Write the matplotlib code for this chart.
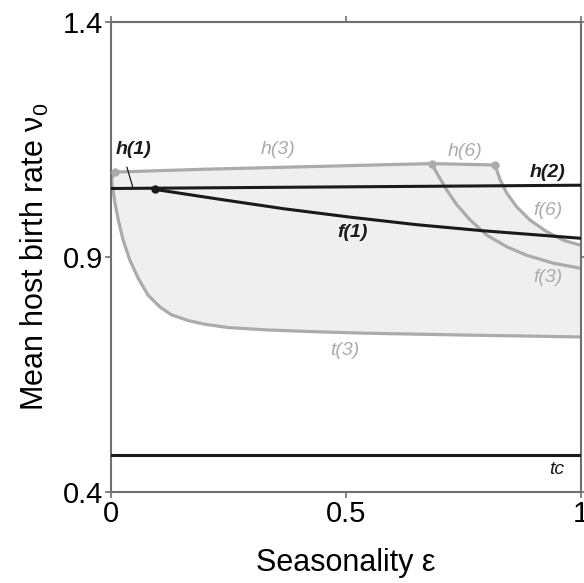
import matplotlib
matplotlib.use('Agg')
import matplotlib.pyplot as plt
import numpy as np

plt.rcParams['font.family'] = ['Liberation Sans', 'DejaVu Sans']
plt.rcParams['mathtext.fontset'] = 'custom'
plt.rcParams['mathtext.rm'] = 'Liberation Sans'
plt.rcParams['mathtext.it'] = 'Liberation Sans:italic'

grey = '#ababab'
dark = '#1a1a1a'

# ---- curves (seasonality eps, birth rate nu0) ----
h3_eps = [0.0085, 0.2, 0.4, 0.6, 0.682]
h3_nu = [1.081, 1.087, 1.092, 1.097, 1.099]

h6_eps = [0.682, 0.817]
h6_nu = [1.099, 1.096]

f6_eps = [0.817, 0.828, 0.842, 0.863, 0.891, 0.927, 0.962, 1.0]
f6_nu = [1.096, 1.064, 1.036, 1.007, 0.979, 0.954, 0.936, 0.925]

f3_eps = [0.682, 0.696, 0.714, 0.736, 0.764, 0.799, 0.842, 0.884, 0.941, 1.0]
f3_nu = [1.099, 1.074, 1.043, 1.011, 0.979, 0.947, 0.922, 0.904, 0.887, 0.876]

t3_eps = [0.0085, 0.001, 0.003, 0.0085, 0.0155, 0.026, 0.040, 0.058, 0.079,
          0.104, 0.129, 0.164, 0.200, 0.250, 0.332, 0.440, 0.545, 0.650,
          0.757, 0.880, 1.0]
t3_nu = [1.081, 1.066, 1.053, 1.015, 0.979, 0.936, 0.894, 0.855, 0.819,
         0.794, 0.777, 0.765, 0.757, 0.750, 0.745, 0.741, 0.738, 0.736,
         0.734, 0.732, 0.730]

h2_eps = [0.0, 1.0]
h2_nu = [1.046, 1.053]

f1_eps = [0.094, 0.225, 0.367, 0.509, 0.650, 0.792, 1.0]
f1_nu = [1.044, 1.024, 1.003, 0.985, 0.969, 0.956, 0.940]

tc_nu = 0.479

# ---------------------------------------------------------------------------

fig = plt.figure(figsize=(5.84, 5.83), dpi=100)
ax = fig.add_axes([0.190, 0.156, 0.805, 0.806])

# shaded region: top = h(3) + h(6) + f(6), bottom = t(3)
top_eps = np.array(h3_eps + h6_eps[1:] + f6_eps[1:])
top_nu = np.array(h3_nu + h6_nu[1:] + f6_nu[1:])
poly_x = np.concatenate([top_eps, np.array(t3_eps[::-1])])
poly_y = np.concatenate([top_nu, np.array(t3_nu[::-1])])
ax.fill(poly_x, poly_y, color='#efefef', lw=0, zorder=1)

lw = 2.3
style = dict(color=grey, lw=lw, zorder=2, solid_joinstyle='round',
             solid_capstyle='round')
ax.plot(h3_eps, h3_nu, **style)
ax.plot(h6_eps, h6_nu, **style)
ax.plot(f6_eps, f6_nu, **style)
ax.plot(f3_eps, f3_nu, **style)
ax.plot(t3_eps, t3_nu, **style)
ax.plot([h3_eps[0], h6_eps[0], h6_eps[1]], [h3_nu[0], h6_nu[0], h6_nu[1]],
        'o', color=grey, ms=5, zorder=3)

bstyle = dict(color=dark, lw=2.2, zorder=4, solid_joinstyle='round')
ax.plot(h2_eps, h2_nu, **bstyle)
ax.plot(f1_eps, f1_nu, **bstyle)
ax.plot(f1_eps[0], f1_nu[0], 'o', color=dark, ms=5, zorder=5)
ax.axhline(tc_nu, **bstyle)

# leader line for h(1)
ax.plot([0.034, 0.047], [1.091, 1.047], color=dark, lw=0.9, zorder=4)

lab = dict(fontsize=14, style='italic', ha='center', va='center')
ax.text(0.047, 1.128, 'h(1)', color=dark, weight='bold', **lab)
ax.text(0.355, 1.128, 'h(3)', color=grey, **lab)
ax.text(0.753, 1.124, 'h(6)', color=grey, **lab)
ax.text(0.928, 1.081, 'h(2)', color=dark, weight='bold', **lab)
ax.text(0.930, 1.000, 'f(6)', color=grey, **lab)
ax.text(0.930, 0.857, 'f(3)', color=grey, **lab)
ax.text(0.513, 0.953, 'f(1)', color=dark, weight='bold', **lab)
ax.text(0.498, 0.702, 't(3)', color=grey, **lab)
ax.text(0.949, 0.447, 'tc', color=dark, **lab)

ax.set_xlim(0, 1)
ax.set_ylim(0.4, 1.4)
ax.set_xticks([0, 0.5, 1])
ax.set_xticklabels(['0', '0.5', '1'])
ax.set_yticks([0.4, 0.9, 1.4])
ax.set_yticklabels(['0.4', '0.9', '1.4'])
ax.tick_params(direction='out', length=4, width=1.2, color='#707070',
               labelsize=21, top=True, right=True, pad=2)

for s in ax.spines.values():
    s.set_color('#707070')
    s.set_linewidth(1.5)

ax.set_xlabel('Seasonality \u03b5', fontsize=22, labelpad=14)
ax.set_ylabel('Mean host birth rate \u03bd$_0$', fontsize=22, labelpad=8)

fig.savefig('out.png', dpi=100)
